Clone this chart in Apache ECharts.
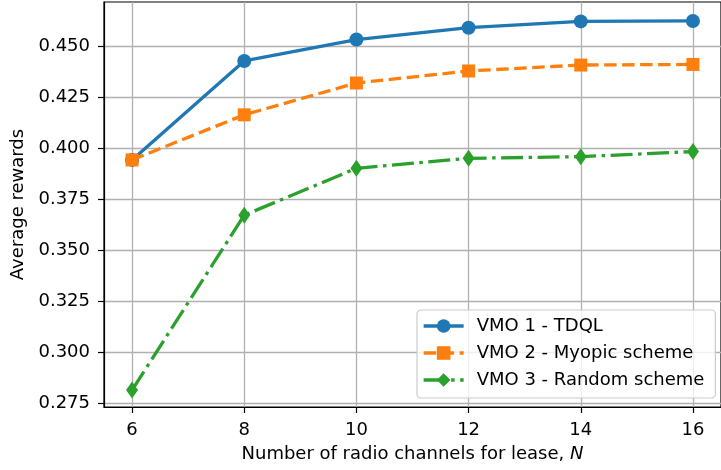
<!DOCTYPE html>
<html>
<head>
<meta charset="utf-8">
<script src="https://cdn.jsdelivr.net/npm/echarts@6/dist/echarts.min.js"></script>
<style>
  html, body { margin: 0; padding: 0; background: #fff; }
  #chart { width: 721px; height: 470px; }
</style>
</head>
<body>
<div id="chart"></div>
<script>
// Average reward per VMO versus number of leasable radio channels
const channels = [6, 8, 10, 12, 14, 16];
const tdql = [0.3943, 0.4428, 0.4533, 0.4591, 0.4622, 0.4624];
const myopic = [0.3943, 0.4164, 0.4320, 0.4379, 0.4408, 0.4411];
const randomScheme = [0.2815, 0.3672, 0.3902, 0.3951, 0.3959, 0.3984];

const seriesNames = ['VMO 1 - TDQL', 'VMO 2 - Myopic scheme', 'VMO 3 - Random scheme'];
const xTicks = [6, 8, 10, 12, 14, 16];
const yTicks = [0.275, 0.300, 0.325, 0.350, 0.375, 0.400, 0.425, 0.450];

const FONT = 'DejaVu Sans';
const pairs = (ys) => channels.map((x, i) => [x, ys[i]]);

const chart = echarts.init(document.getElementById('chart'), null, { renderer: 'canvas' });

chart.setOption({
  animation: false,
  backgroundColor: '#ffffff',
  textStyle: { fontFamily: FONT },
  grid: {
    left: 104, top: 2, width: 629, height: 405,
    show: true, borderColor: '#000', borderWidth: 1.2, backgroundColor: 'transparent'
  },
  xAxis: {
    type: 'value', min: 5.5, max: 16.5,
    name: '{t|Number of radio channels for lease, }{i|N}',
    nameLocation: 'middle', nameGap: 38,
    nameTextStyle: {
      rich: {
        t: { fontFamily: FONT, fontSize: 18, color: '#000' },
        i: { fontFamily: FONT, fontSize: 18, fontStyle: 'italic', color: '#000' }
      }
    },
    axisLine: { show: true, onZero: false, lineStyle: { color: '#000', width: 1.2 } },
    axisTick: { show: true, length: 6, inside: false, customValues: xTicks, lineStyle: { color: '#000', width: 1.2 } },
    axisLabel: { customValues: xTicks, margin: 14, fontSize: 18, color: '#000', fontFamily: FONT },
    splitLine: { show: true, lineStyle: { color: '#b0b0b0', width: 1.3 } }
  },
  yAxis: {
    type: 'value', min: 0.2732, max: 0.4717,
    name: 'Average rewards',
    nameLocation: 'middle', nameGap: 70, nameRotate: 90,
    nameTextStyle: { fontFamily: FONT, fontSize: 18, color: '#000' },
    axisLine: { show: true, onZero: false, lineStyle: { color: '#000', width: 1.2 } },
    axisTick: { show: true, length: 6, inside: false, customValues: yTicks, lineStyle: { color: '#000', width: 1.2 } },
    axisLabel: {
      customValues: yTicks, margin: 14, fontSize: 18, color: '#000', fontFamily: FONT,
      formatter: (v) => v.toFixed(3)
    },
    splitLine: { show: true, lineStyle: { color: '#b0b0b0', width: 1.3 } }
  },
  legend: {
    data: seriesNames,
    orient: 'vertical',
    left: 417, top: 310,
    padding: [6, 11, 8, 5],
    itemWidth: 40, itemHeight: 17, itemGap: 7,
    backgroundColor: 'rgba(255,255,255,0.8)',
    borderColor: '#cccccc', borderWidth: 1.2, borderRadius: 4,
    lineStyle: { width: 3.3 },
    textStyle: { fontFamily: FONT, fontSize: 18, color: '#000', lineHeight: 20, padding: [0, 0, 0, 8] }
  },
  series: [
    {
      name: seriesNames[0], type: 'line', data: pairs(tdql),
      symbol: 'circle', symbolSize: 14,
      lineStyle: { color: '#1f77b4', width: 3.3 },
      itemStyle: { color: '#1f77b4', borderWidth: 0 },
      z: 3
    },
    {
      name: seriesNames[1], type: 'line', data: pairs(myopic),
      symbol: 'rect', symbolSize: 13,
      lineStyle: { color: '#ff7f0e', width: 3.3, type: [12.5, 5.5] },
      itemStyle: { color: '#ff7f0e', borderWidth: 0 },
      z: 4
    },
    {
      name: seriesNames[2], type: 'line', data: pairs(randomScheme),
      symbol: 'diamond', symbolSize: [12, 17],
      lineStyle: { color: '#2ca02c', width: 3.3, type: [22, 5.5, 3.5, 5.5] },
      itemStyle: { color: '#2ca02c', borderWidth: 0 },
      z: 5
    }
  ]
});
</script>
</body>
</html>
